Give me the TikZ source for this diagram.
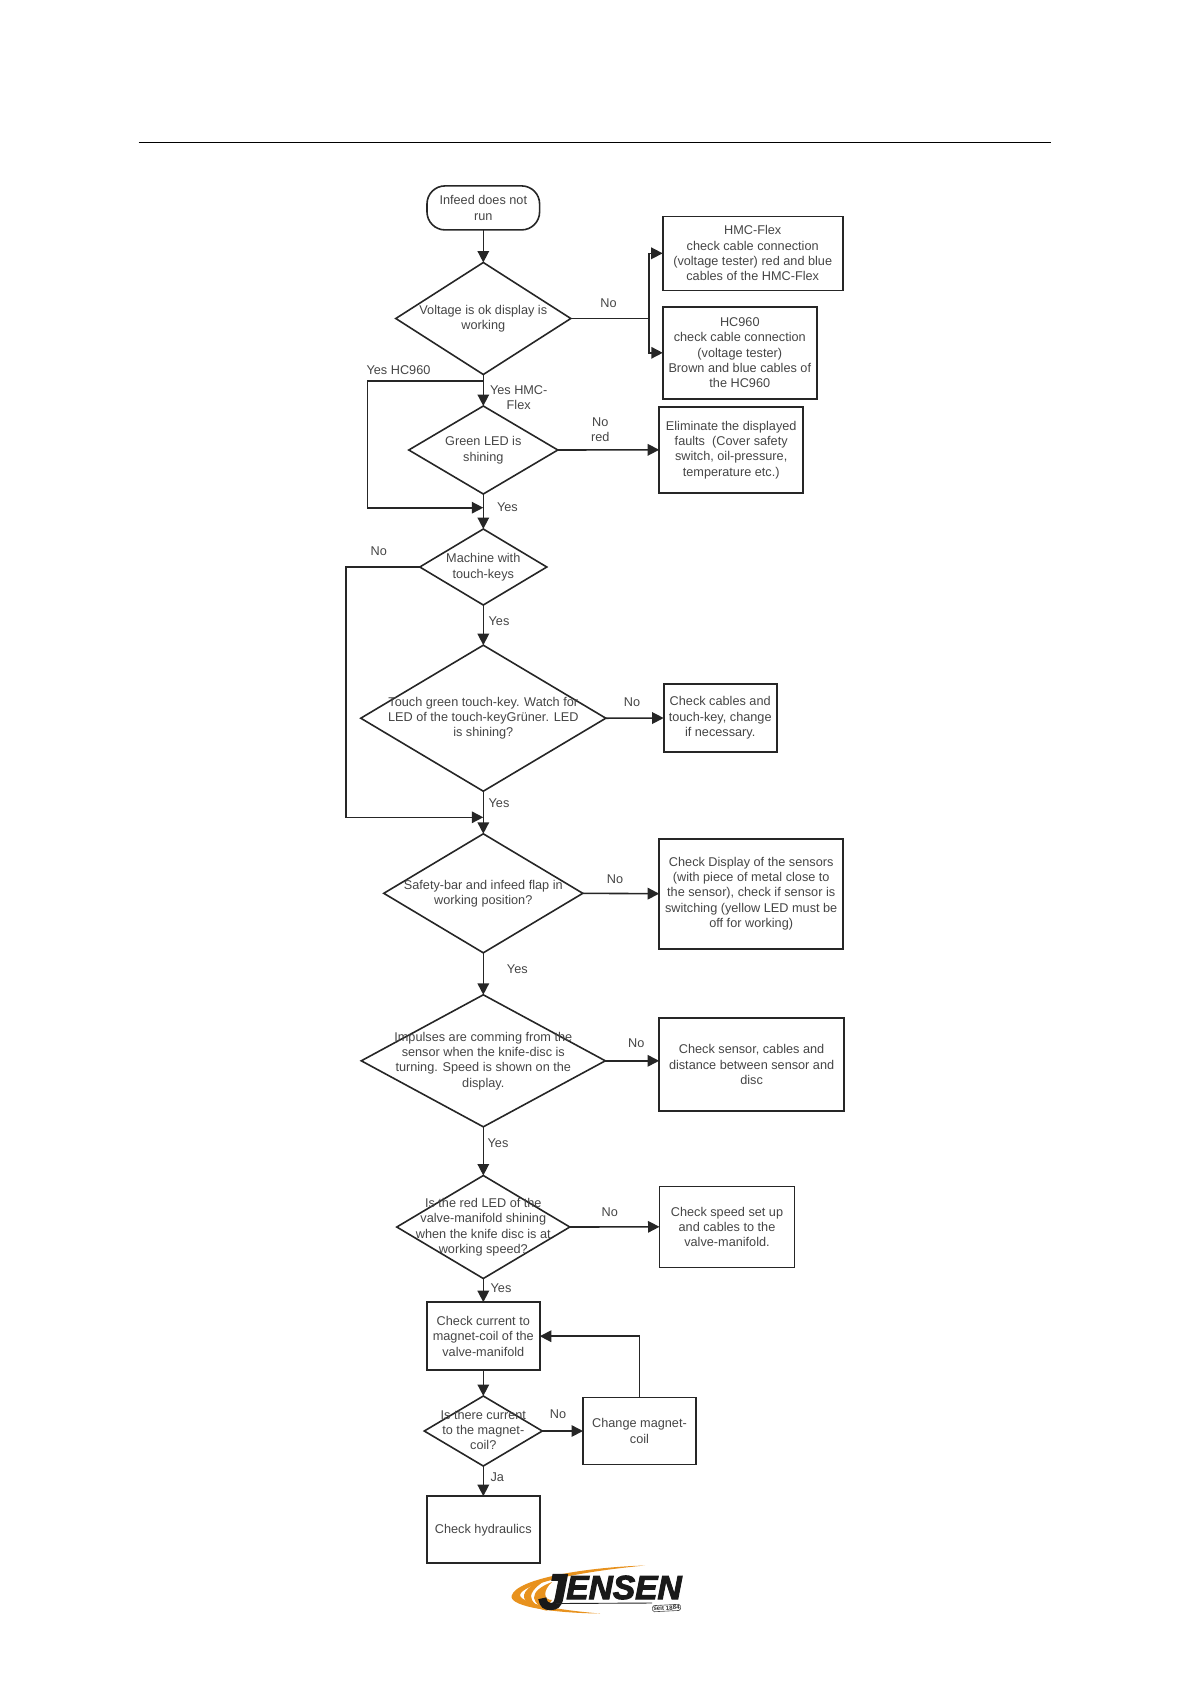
\documentclass[tikz,border=0pt]{standalone}
\usepackage{xcolor}
\usepackage{fontspec}
\setmainfont{Liberation Sans}
\newfontfamily\logofont[BoldItalicFeatures={FakeBold=3}]{Liberation Sans}
\usetikzlibrary{shapes.geometric,arrows.meta}
\definecolor{txtgray}{gray}{0.27}
\definecolor{swoosh}{HTML}{E8921E}
\newcommand{\dtxt}[1]{\makebox[0pt]{\smash{\raisebox{-3.4pt}{\begin{tabular}[c]{@{}c@{}}#1\end{tabular}}}}}
\tikzset{
x=1pt,y=-1pt,
every node/.style={font=\fontsize{12.7}{15.3}\selectfont,text=txtgray},
conn/.style={line width=1.6pt,draw=black!85,-{Triangle[length=11.5pt,width=11.5pt]}},
plain/.style={line width=1.6pt,draw=black!85},
stepbox/.style={rectangle,draw=black!85,line width=1.6pt,inner sep=0pt,outer sep=0pt,align=center},
startbox/.style={stepbox,rounded corners=18pt},
decide/.style={diamond,draw=black!85,line width=1.6pt,inner sep=0pt,outer sep=0pt,aspect=1.5},
lbl/.style={align=center,inner sep=0pt}
}
\begin{document}
\begin{tikzpicture}
\useasboundingbox (0,0) rectangle (1190,1684);
\coordinate (rulea) at (138.5,142.5);
\coordinate (ruleb) at (1051,142.5);
\draw[line width=1pt,black] (rulea) -- (ruleb);
\node[startbox,minimum width=112.6pt,minimum height=44pt] (start) at (483.3,207.9) {Infeed does not\\run};
\node[decide,minimum width=175pt,minimum height=112pt] (volt) at (483.3,318.5) {\dtxt{Voltage is ok display is\\working}};
\node[decide,minimum width=149pt,minimum height=88pt] (green) at (483.3,450) {\dtxt{Green LED is\\shining}};
\node[decide,minimum width=127pt,minimum height=76pt] (machine) at (483.3,567) {\dtxt{Machine with\\touch-keys}};
\node[decide,minimum width=245pt,minimum height=146pt] (touch) at (483.3,718.2) {\dtxt{Touch green touch-key. Watch for\\LED of the touch-keyGrüner. LED\\is shining?}};
\node[decide,minimum width=199pt,minimum height=119pt] (safety) at (483.3,893.3) {\dtxt{Safety-bar and infeed flap in\\working position?}};
\node[decide,minimum width=244pt,minimum height=132pt] (impulse) at (483.3,1060.8) {\dtxt{Impulses are comming from the\\sensor when the knife-disc is\\turning. Speed is shown on the\\display.}};
\node[decide,minimum width=173pt,minimum height=103pt] (valve) at (483.3,1227) {\dtxt{Is the red LED of the\\valve-manifold shining\\when the knife disc is at\\working speed?}};
\node[stepbox,minimum width=113pt,minimum height=68pt] (current) at (483.3,1336.2) {Check current to\\magnet-coil of the\\valve-manifold};
\node[decide,minimum width=118pt,minimum height=70pt] (there) at (483.3,1431) {\dtxt{Is there current\\to the magnet-\\coil?}};
\node[stepbox,minimum width=113pt,minimum height=67pt] (hydr) at (483.3,1529.7) {Check hydraulics};
\node[stepbox,minimum width=180pt,minimum height=74pt] (hmc) at (752.7,253.3) {HMC-Flex\\check cable connection\\(voltage tester) red and blue\\cables of the HMC-Flex};
\node[stepbox,minimum width=154pt,minimum height=92pt] (hc) at (739.8,352.8) {HC960\\check cable connection\\(voltage tester)\\Brown and blue cables of\\the HC960};
\node[stepbox,minimum width=144pt,minimum height=86pt] (elim) at (731.2,449.8) {Eliminate the displayed\\faults~~(Cover safety\\switch, oil-pressure,\\temperature etc.)};
\node[stepbox,minimum width=113pt,minimum height=68pt] (cables) at (720.2,718) {Check cables and\\touch-key, change\\if necessary.};
\node[stepbox,minimum width=184pt,minimum height=110pt] (display) at (751.2,893.7) {Check Display of the sensors\\(with piece of metal close to\\the sensor), check if sensor is\\switching (yellow LED must be\\off for working)};
\node[stepbox,minimum width=185pt,minimum height=93pt] (sensor) at (751.6,1064.7) {Check sensor, cables and\\distance between sensor and\\disc};
\node[stepbox,minimum width=135pt,minimum height=81pt] (speed) at (727,1226.8) {Check speed set up\\and cables to the\\valve-manifold.};
\node[stepbox,minimum width=113pt,minimum height=67pt] (coil) at (639.5,1431) {Change magnet-\\coil};
\coordinate (split) at (649.2,318.5);
\coordinate (hcout) at (483.3,381);
\coordinate (hcdown) at (367.5,381);
\coordinate (hcup) at (367.5,507.7);
\coordinate (hcin) at (483.3,507.7);
\coordinate (keyout) at (345.7,567);
\coordinate (keyup) at (345.7,817.3);
\coordinate (keyin) at (483.3,817.3);
\coordinate (coilup) at (639.5,1336.2);
\draw[conn] (start.south) -- (volt.north);
\draw[conn] (volt.south) -- (green.north);
\draw[plain] (volt.east) -- (split);
\draw[conn] (split) |- (hmc.west);
\draw[conn] (split) |- (hc.west);
\draw[conn] (hcout) -- (hcdown) -- (hcup) -- (hcin);
\draw[conn] (green.east) -- (elim.west);
\draw[conn] (green.south) -- (machine.north);
\draw[conn] (machine.south) -- (touch.north);
\draw[conn] (machine.west) -- (keyout) -- (keyup) -- (keyin);
\draw[conn] (touch.east) -- (cables.west);
\draw[conn] (touch.south) -- (safety.north);
\draw[conn] (safety.east) -- (display.west);
\draw[conn] (safety.south) -- (impulse.north);
\draw[conn] (impulse.east) -- (impulse.east -| sensor.west);
\draw[conn] (impulse.south) -- (valve.north);
\draw[conn] (valve.east) -- (speed.west);
\draw[conn] (valve.south) -- (current.north);
\draw[conn] (current.south) -- (there.north);
\draw[conn] (there.east) -- (coil.west);
\draw[conn] (there.south) -- (hydr.north);
\draw[conn] (coil.north) -- (coilup) -- (current.east);
\node[lbl] (noa) at (608.6,302.7) {No};
\node[lbl] (yeshc) at (398.5,370) {Yes HC960};
\node[lbl] (yeshmc) at (518.7,397.3) {Yes HMC-\\Flex};
\node[lbl] (nored) at (600.3,430) {No\\red};
\node[lbl] (yesa) at (507.4,507.3) {Yes};
\node[lbl] (nob) at (378.7,551) {No};
\node[lbl] (yesb) at (499,621) {Yes};
\node[lbl] (noc) at (632,702) {No};
\node[lbl] (yesc) at (499,802.7) {Yes};
\node[lbl] (nod) at (615,879.3) {No};
\node[lbl] (yesd) at (517.3,968.7) {Yes};
\node[lbl] (noe) at (636.3,1043.3) {No};
\node[lbl] (yese) at (498,1142.7) {Yes};
\node[lbl] (nof) at (609.7,1212.3) {No};
\node[lbl] (yesf) at (501,1287.7) {Yes};
\node[lbl] (nog) at (558,1413.7) {No};
\node[lbl] (ja) at (497.3,1477.3) {Ja};
\fill[swoosh] (645,1565.5) .. controls (590,1567) and (516,1578) .. (511.5,1596) .. controls (510,1607) and (555,1613) .. (600,1613.5) .. controls (570,1611) and (521,1605) .. (520,1595) .. controls (522,1583) and (585,1571) .. (645,1565.5) -- cycle;
\fill[swoosh] (555,1576) .. controls (535,1581) and (523,1590) .. (524,1597) .. controls (525,1604) and (535,1608) .. (548,1611) .. controls (537,1606) and (531,1602) .. (531,1596) .. controls (532,1589) and (542,1581) .. (555,1576) -- cycle;
\fill[swoosh] (552,1582) .. controls (541,1586) and (533.5,1592) .. (534,1598) .. controls (535,1603) and (540,1607) .. (545,1610) -- (552,1600) .. controls (543,1600) and (543,1590) .. (552,1582) -- cycle;
\node[font=\fontsize{50}{50}\logofont\bfseries\itshape,text=black!90,inner sep=0pt] (logoj) at (552.5,1592) {J};
\node[font=\fontsize{33.5}{33.5}\logofont\bfseries\itshape,text=black!90,inner sep=0pt] (logotxt) at (624,1587.5) {ENSEN};
\coordinate (linea) at (556,1603.5);
\coordinate (lineb) at (652,1603);
\draw[line width=.9pt,black!85] (linea) -- (lineb);
\node[rectangle,rounded corners=1.5pt,draw=black!70,line width=.6pt,fill=white,inner sep=.8pt,rotate=3,text=black!80,font=\fontsize{6.2}{6.2}\bfseries\selectfont] (logoyear) at (666.5,1608) {seit 1884};
\end{tikzpicture}
\end{document}
